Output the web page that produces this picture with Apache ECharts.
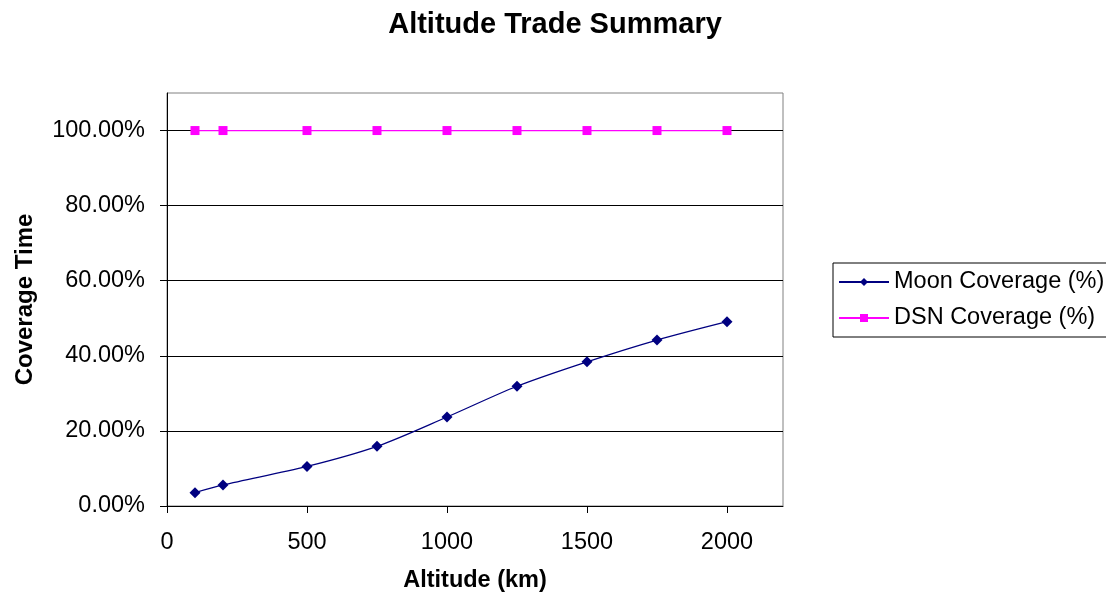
<!DOCTYPE html>
<html>
<head>
<meta charset="utf-8">
<script src="https://cdn.jsdelivr.net/npm/echarts@6/dist/echarts.min.js"></script>
<style>html,body{margin:0;padding:0;background:#fff}#c{width:1106px;height:598px}</style>
</head>
<body>
<div id="c"></div>
<script>
var altitudes = [100, 200, 500, 750, 1000, 1250, 1500, 1750, 2000];
var moonCoverage = [3.55, 5.6, 10.55, 15.9, 23.7, 31.9, 38.4, 44.2, 49.1];
var dsnCoverage = [100, 100, 100, 100, 100, 100, 100, 100, 100];
var xTicks = [0, 500, 1000, 1500, 2000];
var yTicks = [0, 20, 40, 60, 80, 100];
var seriesNames = ['Moon Coverage (%)', 'DSN Coverage (%)'];

var font = '"Liberation Sans", Arial, sans-serif';
var chart = echarts.init(document.getElementById('c'), null, {renderer: 'canvas'});
chart.setOption({
  backgroundColor: '#ffffff',
  animation: false,
  title: {
    text: 'Altitude Trade Summary',
    left: 550, textAlign: 'center', top: 5,
    textStyle: {fontFamily: font, fontWeight: 'bold', fontSize: 29, color: '#000'}
  },
  legend: {
    orient: 'vertical',
    left: 833, top: 263,
    padding: [7, 40, 7, 5],
    itemGap: 12,
    itemWidth: 50, itemHeight: 10,
    borderColor: '#000', borderWidth: 1,
    textStyle: {fontFamily: font, fontSize: 23.5, color: '#000'},
    data: seriesNames
  },
  grid: {
    left: 167, right: 323, top: 93, bottom: 90,
    show: true, borderColor: '#808080', borderWidth: 1
  },
  xAxis: {
    type: 'value', min: 0, max: 2200, interval: 500,
    name: 'Altitude (km)', nameLocation: 'middle', nameGap: 63,
    nameTextStyle: {fontFamily: font, fontWeight: 'bold', fontSize: 23.5, color: '#000'},
    axisLine: {show: true, lineStyle: {color: '#000', width: 1}},
    axisTick: {show: true, length: 7, lineStyle: {color: '#000'}, customValues: xTicks},
    axisLabel: {fontFamily: font, fontSize: 23.5, color: '#000', margin: 25, customValues: xTicks,
      formatter: function (v) { return String(v); }},
    splitLine: {show: false}
  },
  yAxis: {
    type: 'value', min: 0, max: 110, interval: 20,
    name: 'Coverage Time', nameLocation: 'middle', nameGap: 130, nameRotate: 90,
    nameTextStyle: {fontFamily: font, fontWeight: 'bold', fontSize: 24, color: '#000'},
    axisLine: {show: true, lineStyle: {color: '#000', width: 1}},
    axisTick: {show: true, length: 7, lineStyle: {color: '#000'}, customValues: yTicks},
    axisLabel: {fontFamily: font, fontSize: 23.5, color: '#000', margin: 22, customValues: yTicks,
      formatter: function (v) { return v.toFixed(2) + '%'; }},
    splitLine: {show: true, lineStyle: {color: '#000', width: 1}}
  },
  series: [
    {
      name: seriesNames[0], type: 'line', smooth: 0.3,
      data: altitudes.map(function (a, i) { return [a, moonCoverage[i]]; }),
      symbol: 'diamond', symbolSize: 11,
      lineStyle: {color: '#000080', width: 1.3},
      itemStyle: {color: '#000080'}
    },
    {
      name: seriesNames[1], type: 'line',
      data: altitudes.map(function (a, i) { return [a, dsnCoverage[i]]; }),
      symbol: 'rect', symbolSize: 9,
      lineStyle: {color: '#FF00FF', width: 1.3},
      itemStyle: {color: '#FF00FF'}
    }
  ]
});
</script>
</body>
</html>
